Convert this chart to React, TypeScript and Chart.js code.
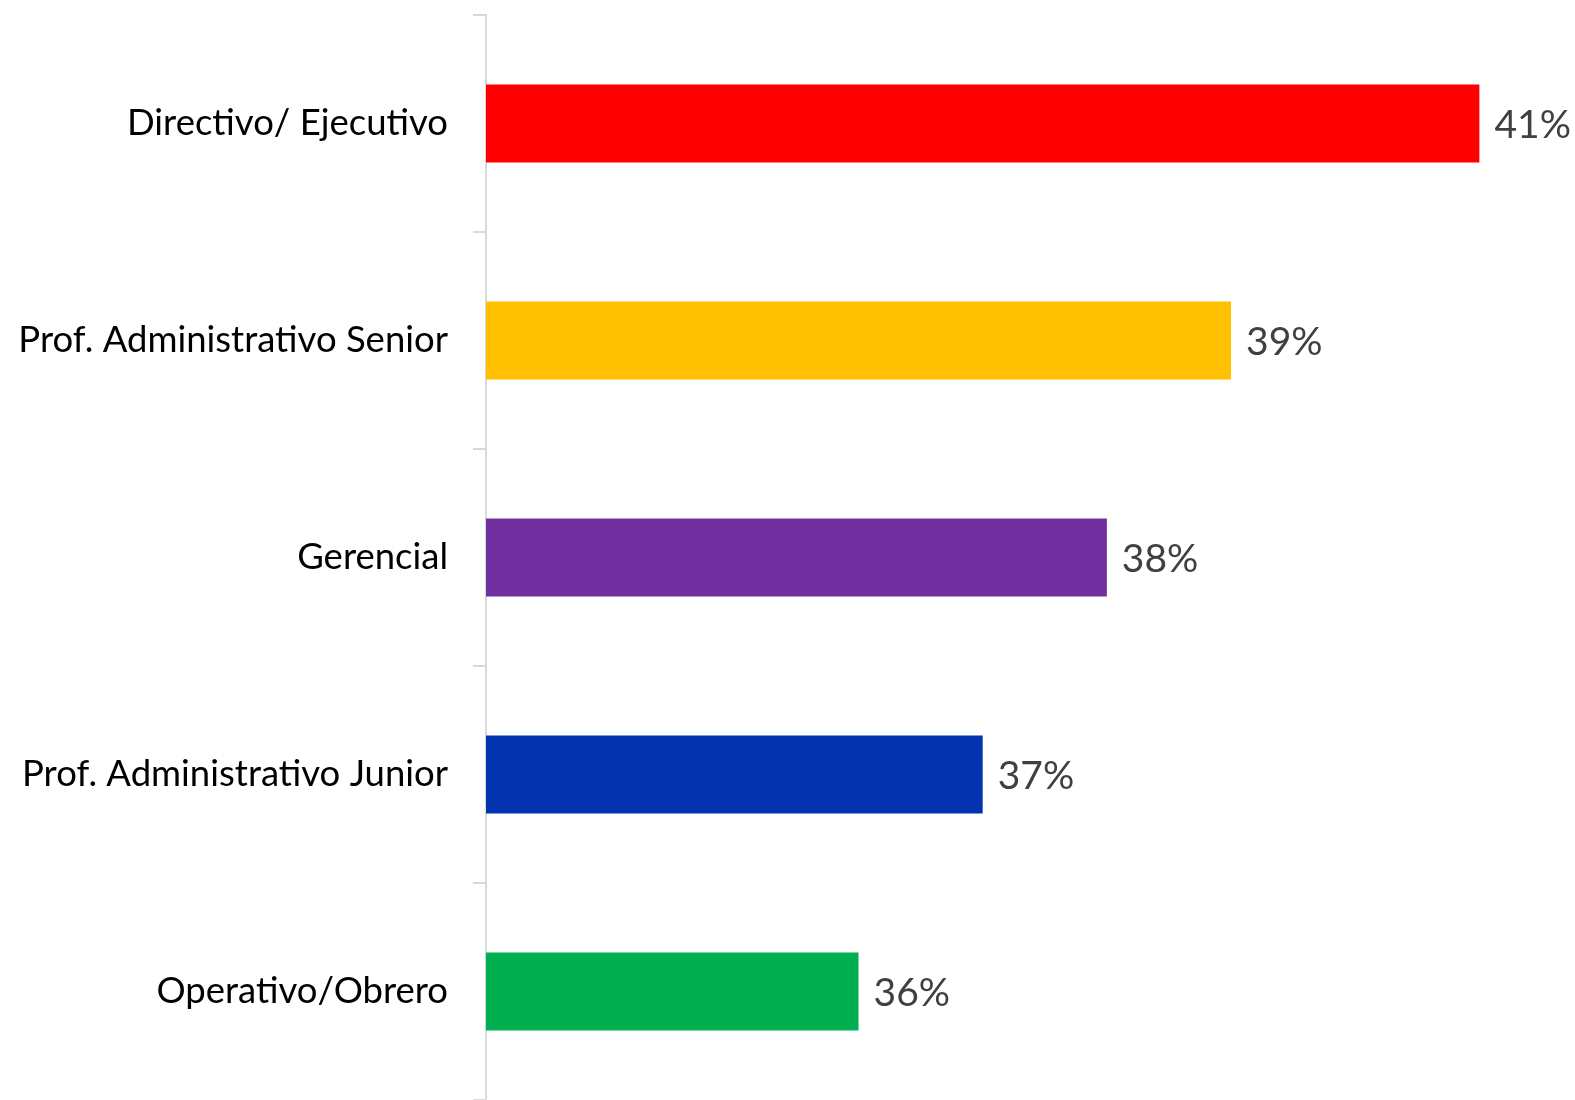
import React, { useEffect, useRef } from "react";
import { Chart, registerables } from "chart.js";

Chart.register(...registerables);

const categories = [
  "Directivo/ Ejecutivo",
  "Prof. Administrativo Senior",
  "Gerencial",
  "Prof. Administrativo Junior",
  "Operativo/Obrero",
];
const values = [41, 39, 38, 37, 36];
const barColors = ["#FF0000", "#FFC000", "#7030A0", "#0333AE", "#00B050"];

const FONT = "Lato, 'Noto Sans', sans-serif";

const valueLabels = {
  id: "valueLabels",
  afterDatasetsDraw(chart: any) {
    const ctx = chart.ctx;
    const meta = chart.getDatasetMeta(0);
    ctx.save();
    ctx.font = `39px ${FONT}`;
    ctx.fillStyle = "#404040";
    ctx.textAlign = "left";
    ctx.textBaseline = "middle";
    meta.data.forEach((bar: any, i: number) => {
      ctx.fillText(`${values[i]}%`, bar.x + 15, bar.y + 2);
    });
    ctx.restore();
  },
};

export default function App() {
  const ref = useRef<HTMLCanvasElement | null>(null);
  useEffect(() => {
    document.body.style.margin = "0";
    const chart = new Chart(ref.current!, {
      type: "bar",
      data: {
        labels: categories,
        datasets: [
          {
            data: values,
            backgroundColor: barColors,
            borderWidth: 0,
            barPercentage: 0.6,
            categoryPercentage: 0.6,
          },
        ],
      },
      options: {
        indexAxis: "y",
        animation: false,
        responsive: false,
        maintainAspectRatio: false,
        layout: { padding: { top: 15, bottom: 0, right: 0, left: 0 } },
        plugins: { legend: { display: false }, tooltip: { enabled: false } },
        scales: {
          x: {
            display: false,
            min: 33,
            max: 41.77,
          },
          y: {
            afterFit(scale: any) {
              scale.width = 486;
              scale.paddingTop = 0;
              scale.paddingBottom = 0;
            },
            grid: {
              drawOnChartArea: false,
              drawTicks: true,
              tickLength: 13,
              color: "#D9D9D9",
              lineWidth: 2,
            },
            border: { display: true, color: "#D9D9D9", width: 2 },
            ticks: {
              color: "#000000",
              padding: 25,
              font: { family: FONT, size: 36.5 },
            },
          },
        },
      },
      plugins: [valueLabels],
    });
    return () => chart.destroy();
  }, []);
  return (
    <div style={{ width: 1575, height: 1100 }}>
      <canvas ref={ref} width={1575} height={1100} style={{ display: "block" }} />
    </div>
  );
}
